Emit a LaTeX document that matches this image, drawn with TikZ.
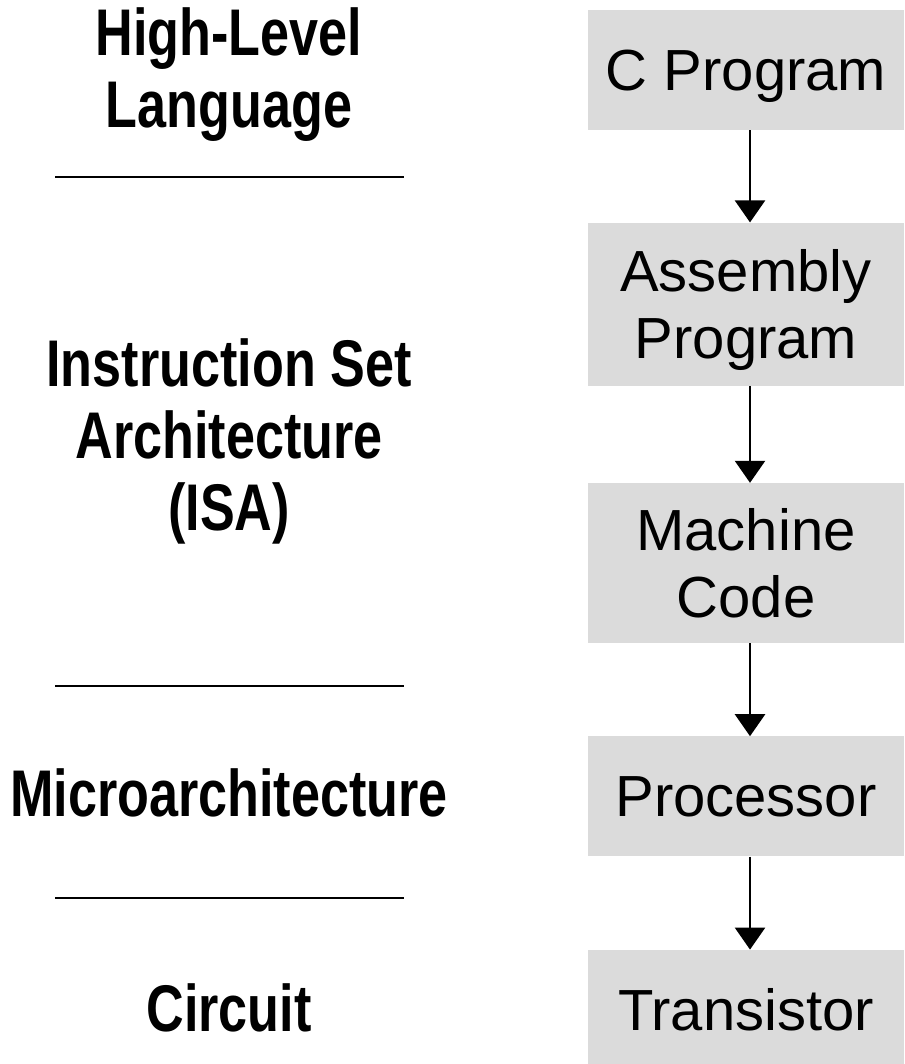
\documentclass[tikz,border=0pt]{standalone}
\usepackage{fontspec}
\setmainfont{Liberation Sans}
\newfontfamily\levelfont{Liberation Sans}[FakeStretch=0.79]
\usetikzlibrary{positioning,arrows.meta}

\begin{document}
\begin{tikzpicture}[
  x=1pt,y=-1pt,
  node distance=93pt,
  stage/.style={fill=black!14,minimum width=316pt,inner sep=0pt,align=center,
    text depth=0pt,font=\fontsize{58}{67}\selectfont},
  level/.style={inner sep=0pt,align=center,font=\levelfont\bfseries\fontsize{66}{72}\selectfont},
  flow/.style={-{Triangle[width=30pt,length=22pt]},line width=2.5pt,
    transform canvas={xshift=4pt}},
  rule/.style={line width=2pt}
]
\useasboundingbox (0,0) rectangle (904,1064);
% stages on the right
\node[stage,minimum height=120pt,anchor=north] (CP) at (746,10) {C Program};
\node[stage,minimum height=163pt,below=92pt of CP] (AP) {Assembly\\Program};
\node[stage,minimum height=160pt,below=97pt of AP] (MC) {Machine\\Code};
\node[stage,minimum height=120pt,below=93pt of MC] (PR) {Processor};
\node[stage,minimum height=120pt,below=93pt of PR] (TR) {Transistor};
\path (CP) edge[flow] (AP)
(AP) edge[flow] (MC)
(MC) edge[flow] (PR)
(PR) edge[flow] (TR);
% abstraction levels on the left
\node[level] (HLL) at (229,75) {High-Level\\Language};
\node[level] (ISA) at (229,441) {Instruction Set\\Architecture\\(ISA)};
\node[level] (UA) at (229,793) {Microarchitecture};
\node[level] (CI) at (229,1008) {Circuit};
\foreach \y in {177,686,898}
  \draw[rule] (55,\y) -- (404,\y);
\end{tikzpicture}
\end{document}
